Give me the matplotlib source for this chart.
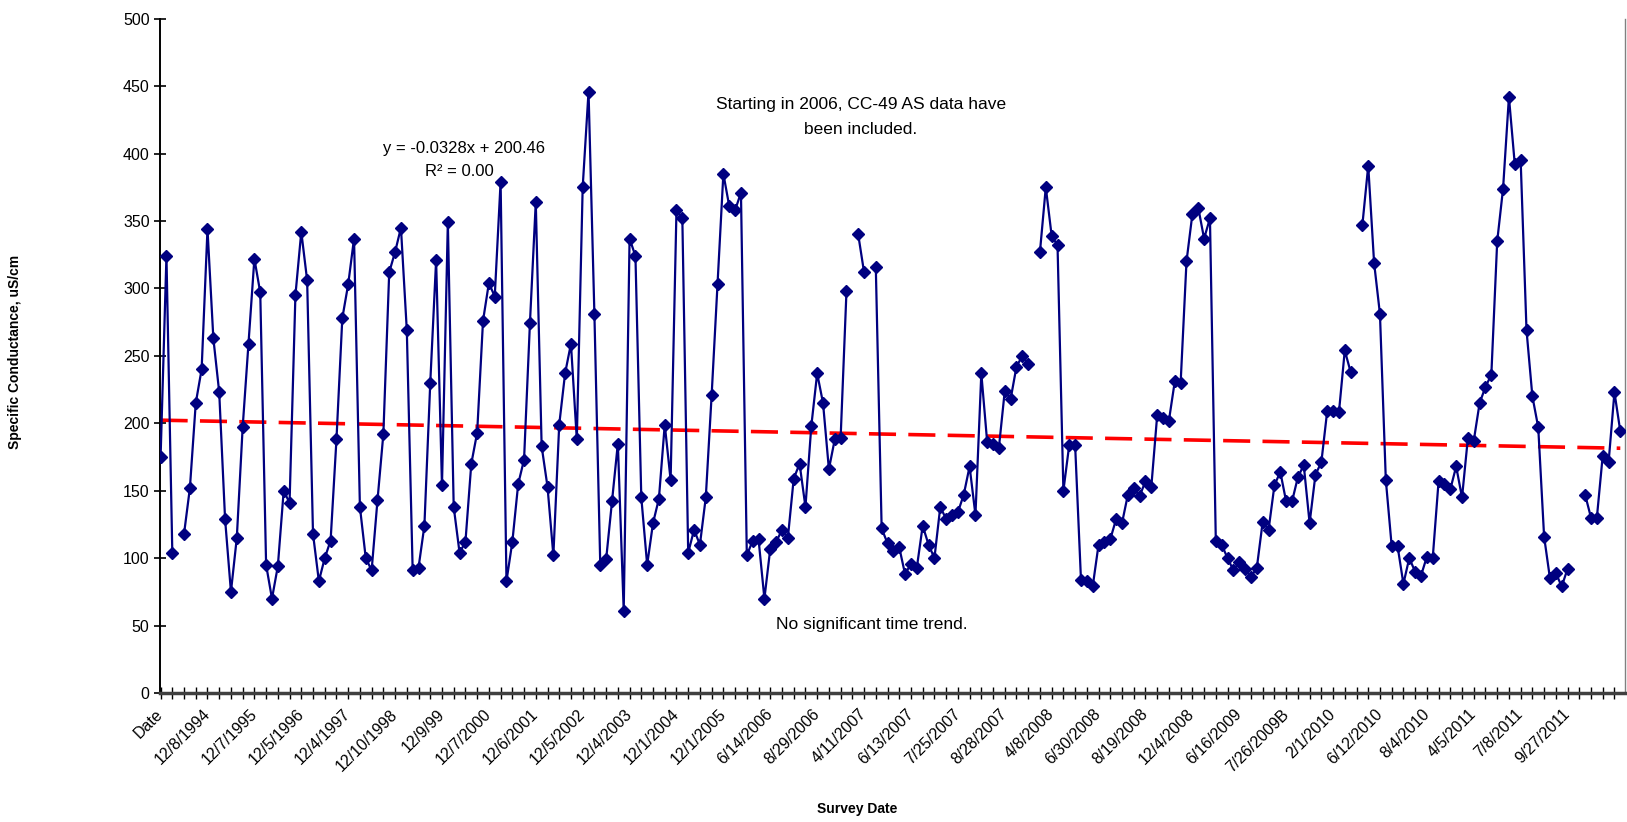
import numpy as np
import matplotlib
matplotlib.use("Agg")
import matplotlib.pyplot as plt

nan = np.nan
# Specific conductance per survey (category index 0..249), NaN = no value
conductance = [
    175, 324, 104, nan, 118, 152, 215, 240, 344, 263,
    223, 129, 75, 115, 197, 259, 322, 297, 95, 70,
    94, 150, 141, 295, 342, 306, 118, 83, 100, 113,
    188, 278, 303, 337, 138, 100, 91, 143, 192, 312,
    327, 345, 269, 91, 93, 124, 230, 321, 154, 349,
    138, 104, 112, 170, 193, 276, 304, 294, 379, 83,
    112, 155, 173, 274, 364, 183, 153, 102, 199, 237,
    259, 188, 375, 446, 281, 95, 99, 142, 185, 61,
    337, 324, 145, 95, 126, 144, 199, 158, 358, 352,
    104, 121, 110, 145, 221, 303, 385, 361, 358, 371,
    102, 113, 114, 70, 107, 112, 121, 115, 159, 170,
    138, 198, 237, 215, 166, 188, 189, 298, nan, 340,
    312, nan, 316, 122, 111, 105, 108, 88, 96, 93,
    124, 110, 100, 138, 129, 132, 134, 147, 168, 132,
    237, 186, 185, 182, 224, 218, 242, 250, 244, nan,
    327, 375, 339, 332, 150, 184, 184, 84, 83, 79,
    110, 112, 114, 129, 126, 147, 152, 146, 157, 153,
    206, 204, 202, 231, 230, 320, 355, 360, 337, 352,
    113, 110, 100, 91, 97, 92, 86, 93, 127, 121,
    154, 164, 142, 142, 160, 169, 126, 162, 171, 209,
    209, 208, 254, 238, nan, 347, 391, 319, 281, 158,
    109, 109, 81, 100, 90, 87, 101, 100, 157, 155,
    151, 168, 145, 189, 187, 215, 227, 236, 335, 374,
    442, 392, 395, 269, 220, 197, 116, 85, 89, 79,
    92, nan, nan, 147, 130, 130, 176, 171, 223, 194,
]

# category labels shown on the axis (every 8th survey)
tick_labels = [
    "Date", "12/8/1994", "12/7/1995", "12/5/1996", "12/4/1997", "12/10/1998",
    "12/9/99", "12/7/2000", "12/6/2001", "12/5/2002", "12/4/2003", "12/1/2004",
    "12/1/2005", "6/14/2006", "8/29/2006", "4/11/2007", "6/13/2007", "7/25/2007",
    "8/28/2007", "4/8/2008", "6/30/2008", "8/19/2008", "12/4/2008", "6/16/2009",
    "7/26/2009B", "2/1/2010", "6/12/2010", "8/4/2010", "4/5/2011", "7/8/2011",
    "9/27/2011",
]
label_step = 8
tick_step = 2

# linear trend line end values as drawn
trend_ends = [202.3, 181.5]

plt.rcParams['font.family'] = ['Liberation Sans', 'DejaVu Sans']

W, H = 1627, 822
fig = plt.figure(figsize=(W / 100, H / 100), dpi=100)
ax = fig.add_axes([160 / W, (H - 693) / H, (1625 - 160) / W, (693 - 18.7) / H])

y = np.array(conductance, dtype=float)
x = np.arange(len(y))

ax.plot(x, y, color='#000080', lw=1.6, marker='D', markersize=6.5,
        markerfacecolor='#000080', markeredgecolor='#000080', zorder=3)

ax.plot([x[0], x[-1]], trend_ends, color='#ff0000', lw=2.6,
        dashes=(7.5, 3.4), solid_capstyle='butt', dash_capstyle='butt', zorder=2)

ax.set_xlim(-0.1, len(y) - 1 + 0.8)
ax.set_ylim(0, 500)
ax.set_yticks(np.arange(0, 501, 50))
ax.tick_params(axis='y', direction='inout', length=9, width=1.2, labelsize=11.5, pad=3)

major = np.arange(0, len(y), label_step)[:len(tick_labels)]
ax.set_xticks(major)
ax.set_xticklabels(tick_labels, rotation=45, ha='right', va='center',
                   rotation_mode='anchor', fontsize=11.5)
ax.set_xticks(np.arange(0, len(y), tick_step), minor=True)
ax.tick_params(axis='x', which='both', direction='inout', length=9, width=1.0, pad=9)

ax.spines['top'].set_visible(False)
ax.spines['right'].set_color('#808080')
ax.spines['right'].set_linewidth(1.0)
ax.spines['left'].set_linewidth(1.4)
ax.spines['bottom'].set_linewidth(2.5)
ax.spines['bottom'].set_color('#404040')

fig.text(15 / W, 1 - 352 / H, "Specific Conductance, uS/cm", rotation=90,
         ha='center', va='center', fontsize=10, fontweight='bold')
fig.text(857 / W, 1 - 809 / H, "Survey Date", ha='center', va='center',
         fontsize=10, fontweight='bold')

fig.text(464 / W, 1 - 148 / H, "y = -0.0328x + 200.46", ha='center', va='center', fontsize=12)
fig.text(459 / W, 1 - 171 / H, "R² = 0.00", ha='center', va='center', fontsize=12)
fig.text(861 / W, 1 - 104 / H, "Starting in 2006, CC-49 AS data have", ha='center',
         va='center', fontsize=12.5)
fig.text(861 / W, 1 - 130 / H, "been included.", ha='center', va='center', fontsize=12.5)
fig.text(872 / W, 1 - 624 / H, "No significant time trend.", ha='center', va='center',
         fontsize=12.5)

fig.savefig("out.png", dpi=100)
